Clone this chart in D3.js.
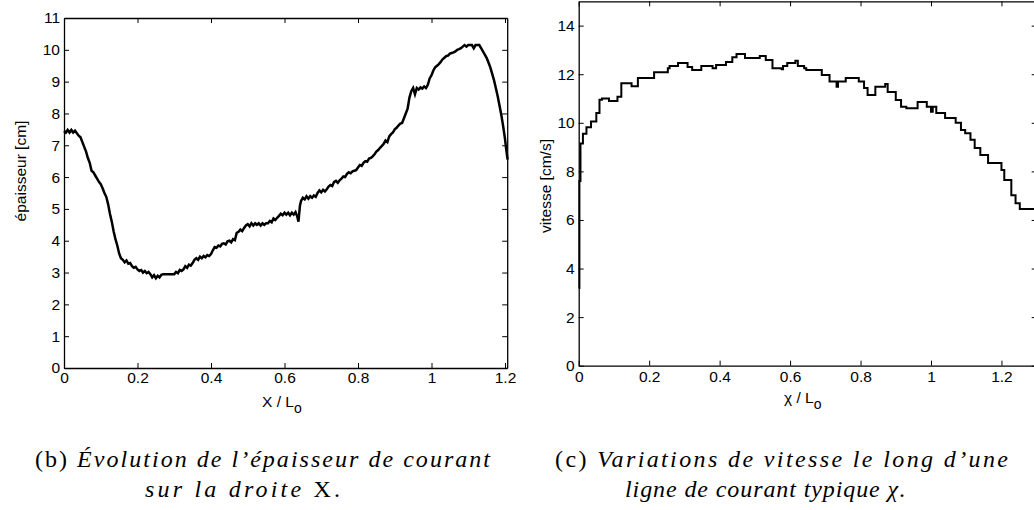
<!DOCTYPE html>
<html>
<head>
<meta charset="utf-8">
<script src="https://cdn.jsdelivr.net/npm/d3@7"></script>
<style>
  html, body { margin: 0; padding: 0; background: #fff; }
  svg { display: block; }
</style>
</head>
<body>
<svg id="chart" width="1034" height="510"></svg>
<script>
// ---------- DATA ----------
// (b) thickness along line X
const thickX = [0.000,0.005,0.010,0.015,0.020,0.025,0.030,0.035,0.040,0.045,0.050,0.055,0.060,0.065,0.070,0.075,0.080,0.085,0.090,0.095,
0.100,0.105,0.110,0.115,0.120,0.125,0.130,0.135,0.140,0.145,0.150,0.155,0.160,0.165,0.170,0.175,0.180,0.185,0.190,0.195,
0.200,0.205,0.210,0.215,0.220,0.225,0.230,0.235,0.240,0.245,0.250,0.255,0.260,0.265,0.270,0.280,0.290,0.300,0.305,0.310,
0.315,0.320,0.325,0.330,0.335,0.340,0.345,0.350,0.355,0.360,0.365,0.370,0.375,0.380,0.385,0.390,0.395,0.400,0.405,0.410,
0.415,0.420,0.425,0.430,0.435,0.440,0.445,0.450,0.455,0.460,0.465,0.470,0.475,0.480,0.485,0.490,0.495,0.500,0.505,0.510,
0.515,0.520,0.525,0.530,0.535,0.540,0.545,0.550,0.555,0.560,0.565,0.570,0.575,0.580,0.585,0.590,0.595,0.600,0.605,0.610,
0.615,0.620,0.625,0.630,0.635,0.638,0.642,0.645,0.650,0.655,0.660,0.665,0.670,0.675,0.680,0.685,0.690,0.695,0.700,0.705,
0.710,0.715,0.720,0.725,0.730,0.735,0.740,0.745,0.750,0.755,0.760,0.765,0.770,0.775,0.780,0.785,0.790,0.795,0.800,0.805,
0.810,0.815,0.820,0.825,0.830,0.835,0.840,0.845,0.850,0.855,0.860,0.865,0.870,0.875,0.880,0.885,0.890,0.895,0.900,0.905,
0.910,0.915,0.920,0.925,0.930,0.935,0.940,0.945,0.950,0.955,0.960,0.965,0.970,0.975,0.980,0.985,0.990,0.995,1.000,1.005,
1.010,1.015,1.020,1.025,1.030,1.035,1.040,1.045,1.050,1.055,1.060,1.065,1.070,1.075,1.080,1.085,1.090,1.095,1.100,1.105,
1.110,1.115,1.120,1.125,1.130,1.135,1.140,1.145,1.150,1.155,1.160,1.165,1.170,1.175,1.180,1.185,1.190,1.195,1.200,1.203,1.207];
const thickY = [7.45,7.40,7.48,7.40,7.48,7.40,7.46,7.38,7.30,7.25,7.10,6.95,6.80,6.60,6.45,6.20,6.15,6.05,5.95,5.85,
5.78,5.65,5.50,5.38,5.15,4.85,4.60,4.30,4.05,3.85,3.60,3.45,3.40,3.32,3.38,3.28,3.30,3.20,3.15,3.18,
3.10,3.05,3.08,3.00,3.05,2.98,3.02,2.95,2.85,2.92,2.82,2.90,2.85,2.93,2.95,2.95,2.95,2.95,3.02,2.98,
3.08,3.05,3.10,3.20,3.15,3.25,3.22,3.30,3.40,3.45,3.40,3.50,3.45,3.52,3.48,3.55,3.52,3.58,3.70,3.80,
3.78,3.85,3.82,3.90,3.92,3.88,3.98,4.00,3.95,4.05,4.02,4.25,4.28,4.35,4.30,4.40,4.48,4.52,4.45,4.55,
4.48,4.55,4.50,4.55,4.48,4.55,4.50,4.55,4.55,4.62,4.58,4.70,4.65,4.72,4.78,4.85,4.80,4.88,4.82,4.88,
4.80,4.88,4.82,4.90,4.75,4.60,5.10,5.25,5.35,5.30,5.40,5.32,5.40,5.35,5.42,5.38,5.50,5.58,5.52,5.60,
5.55,5.62,5.70,5.75,5.72,5.85,5.88,5.82,5.90,5.95,6.02,6.00,6.10,6.15,6.12,6.18,6.20,6.22,6.30,6.38,
6.35,6.45,6.50,6.48,6.58,6.60,6.65,6.72,6.80,6.85,6.92,6.98,7.05,7.15,7.10,7.28,7.35,7.40,7.50,7.55,
7.62,7.68,7.70,7.85,8.00,8.15,8.50,8.70,8.80,8.60,8.80,8.75,8.82,8.78,8.85,8.80,8.90,9.10,9.20,9.35,
9.45,9.50,9.55,9.62,9.70,9.75,9.80,9.82,9.88,9.90,9.92,9.95,10.00,10.02,10.05,10.10,10.15,10.10,10.15,10.15,
10.15,10.05,10.15,10.15,10.15,10.05,9.95,9.85,9.75,9.60,9.45,9.25,9.05,8.80,8.55,8.25,7.95,7.60,7.20,6.90,6.55];

// (c) velocity along a streamline (step values, each holds until the next x)
const velX = [0.000,0.002,0.005,0.012,0.022,0.035,0.050,0.059,0.066,0.086,0.110,0.121,0.150,0.168,0.214,0.253,0.258,0.282,0.309,0.322,
0.348,0.380,0.390,0.418,0.436,0.448,0.472,0.514,0.531,0.550,0.576,0.580,0.592,0.615,0.622,0.640,0.646,0.690,0.712,0.732,
0.736,0.758,0.795,0.810,0.820,0.842,0.870,0.877,0.900,0.915,0.930,0.962,0.988,1.000,1.005,1.015,1.040,1.070,1.085,1.097,
1.112,1.124,1.140,1.162,1.200,1.208,1.228,1.240,1.252,1.320];
const velY = [3.2,7.6,9.15,9.55,9.82,10.05,10.4,10.95,11.0,10.9,11.07,11.63,11.5,11.84,12.08,12.25,12.34,12.46,12.3,12.17,
12.34,12.25,12.38,12.5,12.7,12.83,12.67,12.75,12.59,12.25,12.2,12.34,12.46,12.55,12.34,12.25,12.17,11.97,11.7,11.48,
11.7,11.84,11.7,11.43,11.14,11.48,11.6,11.27,10.94,10.66,10.6,10.86,10.66,10.45,10.66,10.4,10.2,10.0,9.7,9.57,
9.3,8.96,8.67,8.34,8.06,7.64,7.02,6.69,6.45,6.45];

const thickXTicks = [0, 0.2, 0.4, 0.6, 0.8, 1, 1.2];
const thickYTicks = [0,1,2,3,4,5,6,7,8,9,10,11];
const velXTicks = [0, 0.2, 0.4, 0.6, 0.8, 1, 1.2];
const velYTicks = [0, 2, 4, 6, 8, 10, 12, 14];

const labels = {
  thickY: "épaisseur [cm]",
  thickX: "X / L",
  velY: "vitesse [cm/s]",
  velX: "χ / L",
  sub: "o"
};

// ---------- DRAW ----------
const svg = d3.select("#chart");
const fmt = d => String(+(+d).toFixed(1));
const FONT = "'Liberation Sans', Arial, Helvetica, sans-serif";

function panel(o) {
  const x = d3.scaleLinear().domain(o.xDom).range([o.left, o.left + o.pxPerX * o.xDom[1]]);
  const y = d3.scaleLinear().domain(o.yDom).range([o.bottom, o.top]);
  const g = svg.append("g");
  const x0 = x.range()[0], x1 = x.range()[1];
  const styleAxis = sel => {
    sel.selectAll("path.domain").attr("stroke", "#000").attr("stroke-width", 1.3);
    sel.selectAll(".tick line").attr("stroke", "#000").attr("stroke-width", 1);
    sel.selectAll("text").attr("font-family", FONT).attr("font-size", 15.5).attr("fill", "#000");
  };
  g.append("g").attr("transform", `translate(0,${o.bottom})`)
    .call(d3.axisBottom(x).tickValues(o.xTicks).tickFormat(fmt).tickSize(-5).tickSizeOuter(0).tickPadding(o.xPad))
    .call(styleAxis);
  g.append("g").attr("transform", `translate(0,${o.top})`)
    .call(d3.axisTop(x).tickValues(o.xTicks).tickFormat("").tickSize(-5).tickSizeOuter(0))
    .call(styleAxis);
  g.append("g").attr("transform", `translate(${x0},0)`)
    .call(d3.axisLeft(y).tickValues(o.yTicks).tickFormat(fmt).tickSize(-5).tickSizeOuter(0).tickPadding(4))
    .call(styleAxis);
  g.append("g").attr("transform", `translate(${x1},0)`)
    .call(d3.axisRight(y).tickValues(o.yTicks).tickFormat("").tickSize(-5).tickSizeOuter(0))
    .call(styleAxis);

  const pts = o.xs.map((v, i) => [v, o.ys[i]]);
  g.append("path")
    .attr("d", d3.line().x(d => x(d[0])).y(d => y(d[1])).curve(o.curve)(pts))
    .attr("fill", "none").attr("stroke", "#000").attr("stroke-width", o.lw)
    .attr("stroke-linejoin", "miter");

  g.append("text")
    .attr("transform", `translate(${o.yLab[0]},${o.yLab[1]}) rotate(-90)`)
    .attr("text-anchor", "middle")
    .attr("font-family", FONT).attr("font-size", 15.5)
    .text(o.yText);
  const t = g.append("text")
    .attr("x", o.xLab[0]).attr("y", o.xLab[1])
    .attr("font-family", FONT).attr("font-size", 15.5);
  t.append("tspan").text(o.xText);
  t.append("tspan").attr("dy", o.subDy).attr("font-size", 14).text(labels.sub);
}

panel({
  xDom: [0, 1.206], yDom: [0, 11], left: 64, pxPerX: 367.5, top: 18, bottom: 368,
  xTicks: thickXTicks, yTicks: thickYTicks, xPad: 4,
  xs: thickX, ys: thickY, curve: d3.curveLinear, lw: 2.5,
  yText: labels.thickY, yLab: [26, 171],
  xText: labels.thickX, xLab: [262, 407], subDy: 6
});

panel({
  xDom: [0, 1.3], yDom: [0, 15], left: 578.7, pxPerX: 352.3, top: 1.35, bottom: 365.7,
  xTicks: velXTicks, yTicks: velYTicks, xPad: 5,
  xs: velX, ys: velY, curve: d3.curveStepAfter, lw: 2,
  yText: labels.velY, yLab: [551, 186],
  xText: labels.velX, xLab: [784, 403], subDy: 6
});

// ---------- CAPTIONS ----------
const CAP = "'Liberation Serif', 'Times New Roman', serif";
const CAP_SIZE = 24;
function caption(x, y, width, parts) {
  const t = svg.append("text").attr("x", x).attr("y", y)
    .attr("font-family", CAP).attr("font-size", CAP_SIZE).attr("fill", "#000")
    .attr("textLength", width).attr("lengthAdjust", "spacing");
  parts.forEach(p => t.append("tspan").attr("font-style", p[1] ? "italic" : "normal").text(p[0]));
}
caption(35, 467, 455, [["(b) ", false], ["Évolution de l’épaisseur de courant", true]]);
caption(145, 497, 195, [["sur la droite ", true], ["X.", false]]);
caption(555, 467, 453, [["(c) ", false], ["Variations de vitesse le long d’une", true]]);
caption(625, 497, 280, [["ligne de courant typique ", true], ["χ", true], [".", false]]);
</script>
</body>
</html>
